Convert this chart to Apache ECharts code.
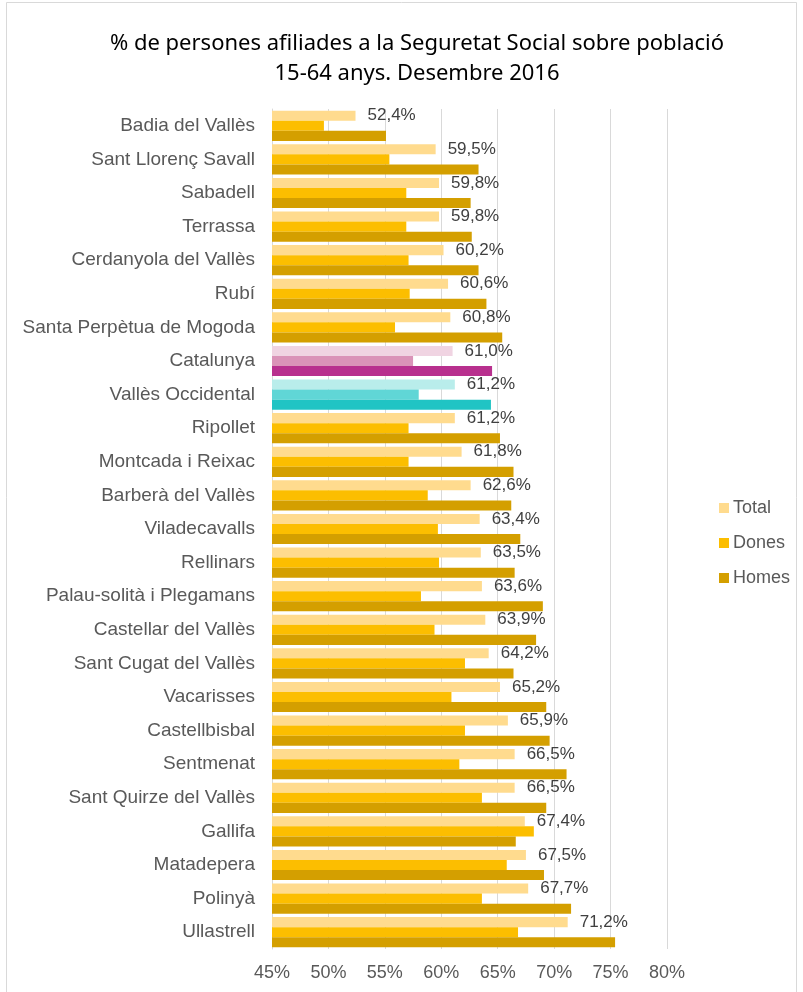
<!DOCTYPE html>
<html>
<head>
<meta charset="utf-8">
<script src="https://cdn.jsdelivr.net/npm/echarts@6/dist/echarts.min.js"></script>
<style>
  html, body { margin: 0; padding: 0; background: #fff; }
  #chart { width: 803px; height: 992px; }
</style>
</head>
<body>
<div id="chart"></div>
<script>
// municipis, ordenats de menor a major % total
const municipis = [
  'Badia del Vallès', 'Sant Llorenç Savall', 'Sabadell', 'Terrassa', 'Cerdanyola del Vallès',
  'Rubí', 'Santa Perpètua de Mogoda', 'Catalunya', 'Vallès Occidental', 'Ripollet',
  'Montcada i Reixac', 'Barberà del Vallès', 'Viladecavalls', 'Rellinars', 'Palau-solità i Plegamans',
  'Castellar del Vallès', 'Sant Cugat del Vallès', 'Vacarisses', 'Castellbisbal', 'Sentmenat',
  'Sant Quirze del Vallès', 'Gallifa', 'Matadepera', 'Polinyà', 'Ullastrell'
];
const total = [52.4, 59.5, 59.8, 59.8, 60.2, 60.6, 60.8, 61.0, 61.2, 61.2,
  61.8, 62.6, 63.4, 63.5, 63.6, 63.9, 64.2, 65.2, 65.9, 66.5,
  66.5, 67.4, 67.5, 67.7, 71.2];
const dones = [49.6, 55.4, 56.9, 56.9, 57.1, 57.2, 55.9, 57.5, 58.0, 57.1,
  57.1, 58.8, 59.7, 59.8, 58.2, 59.4, 62.1, 60.9, 62.1, 61.6,
  63.6, 68.2, 65.8, 63.6, 66.8];
const homes = [55.1, 63.3, 62.6, 62.7, 63.3, 64.0, 65.4, 64.5, 64.4, 65.2,
  66.4, 66.2, 67.0, 66.5, 69.0, 68.4, 66.4, 69.3, 69.6, 71.1,
  69.3, 66.6, 69.1, 71.5, 75.4];
const xTicks = [45, 50, 55, 60, 65, 70, 75, 80];

// colors: [total, dones, homes]
const baseColors = ['#FFDB8E', '#FCBE00', '#D49F00'];
const specialColors = {
  'Catalunya': ['#F0D4E2', '#DA93B8', '#B8308E'],
  'Vallès Occidental': ['#B9EDEB', '#60D6D6', '#20C4C4']
};

function buildData (values, idx) {
  return values.map((v, i) => {
    const sp = specialColors[municipis[i]];
    return sp ? { value: v, itemStyle: { color: sp[idx] } } : v;
  });
}

const chart = echarts.init(document.getElementById('chart'));
const textColor = '#595959';

chart.setOption({
  backgroundColor: '#fff',
  animation: false,
  title: {
    text: '% de persones afiliades a la Seguretat Social sobre població\n15-64 anys. Desembre 2016',
    left: 412,
    textAlign: 'center',
    top: 24,
    textStyle: {
      fontFamily: 'Noto Sans',
      fontWeight: 'normal',
      fontSize: 22,
      lineHeight: 30,
      color: '#000'
    }
  },
  graphic: [{
    type: 'rect',
    shape: { x: 6.5, y: 2.5, width: 790, height: 995 },
    style: { fill: 'none', stroke: '#d9d9d9', lineWidth: 1 },
    silent: true
  }],
  legend: {
    orient: 'vertical',
    left: 719,
    top: 499,
    padding: 0,
    itemWidth: 10,
    itemHeight: 10,
    itemGap: 17,
    icon: 'rect',
    textStyle: { fontFamily: 'Liberation Sans', fontSize: 18, color: textColor, padding: [0, 0, 0, -1] },
    data: [
      { name: 'Total', itemStyle: { color: baseColors[0] } },
      { name: 'Dones', itemStyle: { color: baseColors[1] } },
      { name: 'Homes', itemStyle: { color: baseColors[2] } }
    ]
  },
  grid: { left: 272, right: 136, top: 109, bottom: 43 },
  xAxis: {
    type: 'value',
    min: xTicks[0],
    max: xTicks[xTicks.length - 1],
    interval: 5,
    axisLine: { show: false },
    axisTick: { show: false },
    splitLine: { lineStyle: { color: '#d9d9d9', width: 1 } },
    axisLabel: {
      formatter: '{value}%',
      fontFamily: 'Liberation Sans',
      fontSize: 18,
      color: textColor,
      margin: 15
    }
  },
  yAxis: {
    type: 'category',
    inverse: true,
    data: municipis,
    axisLine: { lineStyle: { color: '#d9d9d9' } },
    axisTick: { show: false },
    axisLabel: {
      fontFamily: 'Liberation Sans',
      fontSize: 19,
      color: textColor,
      margin: 17
    }
  },
  series: [
    {
      name: 'Total',
      type: 'bar',
      data: buildData(total, 0),
      itemStyle: { color: baseColors[0] },
      barGap: '0%',
      barCategoryGap: '10%',
      label: {
        show: true,
        position: 'right',
        distance: 12,
        fontFamily: 'Liberation Sans',
        fontSize: 17,
        color: '#404040',
        formatter: p => p.value.toFixed(1).replace('.', ',') + '%'
      }
    },
    {
      name: 'Dones',
      type: 'bar',
      data: buildData(dones, 1),
      itemStyle: { color: baseColors[1] },
      barGap: '0%',
      barCategoryGap: '10%'
    },
    {
      name: 'Homes',
      type: 'bar',
      data: buildData(homes, 2),
      itemStyle: { color: baseColors[2] },
      barGap: '0%',
      barCategoryGap: '10%'
    }
  ]
});
</script>
</body>
</html>
